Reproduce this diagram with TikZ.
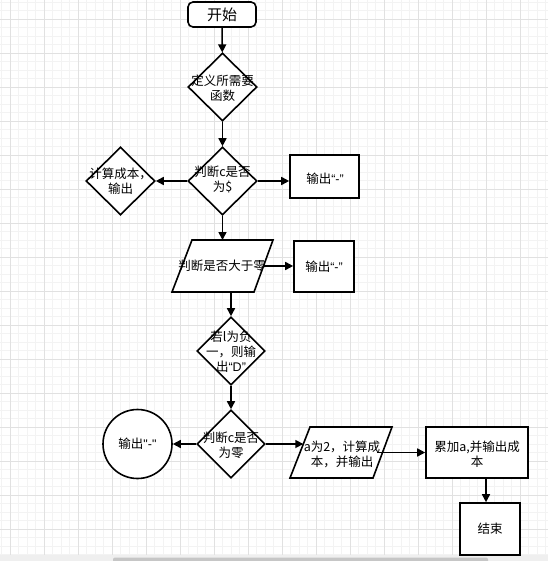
\documentclass[tikz,border=0pt]{standalone}
\usepackage{fontspec}
\setmainfont{Noto Sans CJK SC}
\newfontfamily\lat{Liberation Sans}
\usetikzlibrary{arrows.meta,shapes.geometric,calc}
\definecolor{gmin}{HTML}{F3F3F3}
\definecolor{gmaj}{HTML}{E1E1E1}
\definecolor{barbg}{HTML}{EFEFEF}
\definecolor{barfg}{HTML}{C6C6C6}
\begin{document}
\begin{tikzpicture}[x=1pt,y=-1pt,
  shp/.style={draw=black, line width=1.6pt, fill=white, inner sep=0pt},
  dia/.style={shp, diamond, minimum width=69pt, minimum height=68pt},
  box/.style={shp, rectangle},
  ghost/.style={rectangle, inner sep=0pt, outer sep=0pt},
  txt/.style={font=\fontsize{12.5}{15}\selectfont, align=center, inner sep=0pt},
  arr/.style={line width=1.6pt, -{Triangle[length=8pt,width=8pt]}},
  ln/.style={line width=1.6pt},
]
% background and grid
\fill[white] (0,0) rectangle (548,561);
\useasboundingbox (0,0) rectangle (548,561);
\foreach \i in {-1,...,63} {\draw[gmin, line width=0.8pt] ({10+8.5*\i},0) -- ({10+8.5*\i},561);}
\foreach \i in {-2,...,64} {\draw[gmin, line width=0.8pt] (0,{19+8.5*\i}) -- (548,{19+8.5*\i});}
\foreach \i in {0,...,16} {\draw[gmaj, line width=0.8pt] ({10+34*\i},0) -- ({10+34*\i},561);}
\foreach \i in {-1,...,16} {\draw[gmaj, line width=0.8pt] (0,{19+34*\i}) -- (548,{19+34*\i});}
\fill[barbg] (0,555) rectangle (548,561);
\fill[barfg, rounded corners=2pt] (113,557.5) rectangle (488,563);

% nodes
\node[box, rounded corners=5pt, minimum width=68pt, minimum height=25pt,
      font=\fontsize{15}{18}\selectfont] (st) at (222,14.5) {开始};
\node[dia] (d1) at (222.5,87) {};
\node[txt] (d1t) at (222.5,88) {定义所需要\\函数};
\node[dia] (d2) at (222.5,181) {};
\node[txt] (d2t) at (222.5,180) {判断c是否\\为\$};
\node[dia] (dl) at (120.5,181) {};
\node[txt] (dlt) at (120.5,181) {计算成本，\\输出};
\node[box, minimum width=69pt, minimum height=43pt] (b1) at (324.5,176.5) {};
\node[txt] (b1t) at (325,179) {输出{\lat “-”}};

\node[ghost, minimum width=101pt, minimum height=52pt] (p1) at (222.5,266) {};
\draw[shp] (p1.south west) -- ++(82,0) -- (p1.north east) -- ++(-81,0) -- cycle;
\node[txt] (p1t) at (222,266) {判断是否大于零};
\coordinate (p1e) at ($(p1.east)+(-9.5,0)$);
\node[box, minimum width=60pt, minimum height=51pt] (b2) at (324,266.5) {};
\node[txt] (b2t) at (324,266.5) {输出{\lat “-”}};

\node[dia, minimum width=68pt] (d3) at (231,351) {};
\node[txt] (d3t) at (231,352) {若l为负\\一，则输\\出{\lat “D”}};
\node[dia, minimum width=68pt] (d4) at (231,444) {};
\node[txt] (d4t) at (231,445) {判断c是否\\为零};
\node[shp, circle, minimum size=69pt] (c1) at (137.5,444) {};
\node[txt] (c1t) at (137.5,444) {输出{\lat "-"}};

\node[ghost, minimum width=102pt, minimum height=51pt] (p2) at (341,452.5) {};
\draw[shp] (p2.south west) -- ++(83,0) -- (p2.north east) -- ++(-82,0) -- cycle;
\node[txt] (p2t) at (342,454) {a为2，计算成\\本，并输出};
\coordinate (p2w) at (303.3,444);
\coordinate (p2x) at (377,452.5);
\node[box, minimum width=102pt, minimum height=51pt] (b3) at (477,452.5) {};
\node[txt] (b3t) at (477,454) {累加a,并输出成\\本};
\node[box, minimum width=60pt, minimum height=52pt] (b4) at (490,529) {};
\node[txt] (b4t) at (490,529) {结束};
\coordinate (b3b) at (486,478);

% connectors
\draw[arr] (st) -- (d1);
\draw[arr] (d1) -- (d2);
\draw[arr] (d2.west) -- (dl.east);
\draw[arr] (d2.east) -- (d2.east -| b1.west);
\draw[arr] (d2.south) -- (d2.south |- p1.north);
\draw[arr] (p1e) -- (p1e -| b2.west);
\draw[arr] (d3.north |- p1.south) -- (d3.north);
\draw[arr] (d3.south) -- (d4.north);
\draw[arr] (d4.west) -- (c1.east);
\draw[arr] (d4.east) -- (p2w);
\draw[arr] (p2x) -- (p2x -| b3.west);
\draw[arr] (b3.south -| b3b) -- (b3b |- b4.north);
\end{tikzpicture}
\end{document}
